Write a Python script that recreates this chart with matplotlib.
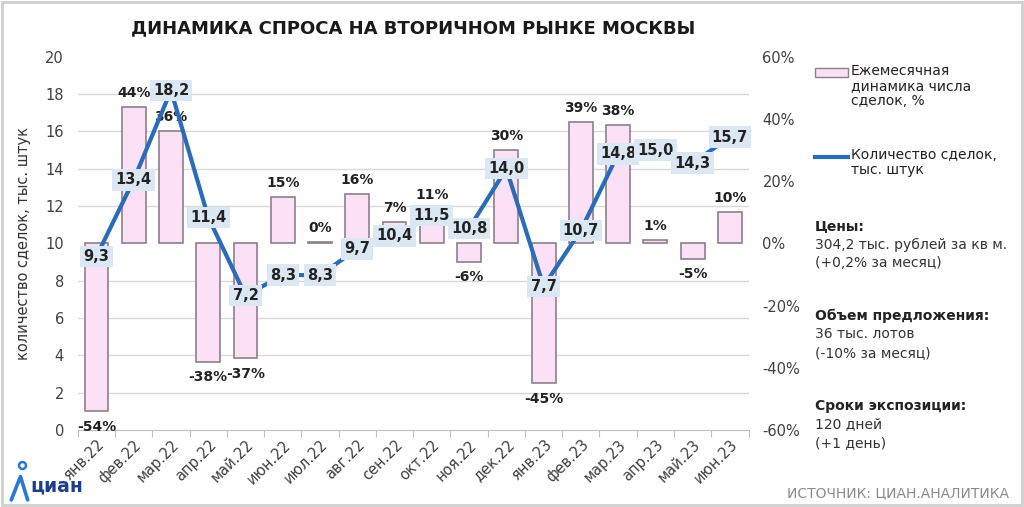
import matplotlib
matplotlib.use("Agg")
import matplotlib.pyplot as plt
from matplotlib.ticker import MultipleLocator, FuncFormatter
from matplotlib.patches import Rectangle
from matplotlib.lines import Line2D

plt.rcParams['font.family'] = ['DejaVu Sans']

months = ['янв.22', 'фев.22', 'мар.22', 'апр.22', 'май.22', 'июн.22', 'июл.22',
          'авг.22', 'сен.22', 'окт.22', 'ноя.22', 'дек.22', 'янв.23', 'фев.23',
          'мар.23', 'апр.23', 'май.23', 'июн.23']
deals = [9.3, 13.4, 18.2, 11.4, 7.2, 8.3, 8.3, 9.7, 10.4, 11.5, 10.8, 14.0,
         7.7, 10.7, 14.8, 15.0, 14.3, 15.7]
change_pct = [-54, 44, 36, -38, -37, 15, 0.4, 16, 7, 11, -6, 30, -45, 39, 38, 1, -5, 10]

BAR_FACE = '#fbe0f6'
BAR_EDGE = '#8c7f8c'
LINE_COL = '#2b6cb8'
LABEL_BG = '#dbe8f4'
TEXT_COL = '#222222'
GRID_COL = '#d9d9d9'
W, H = 1024, 507

fig = plt.figure(figsize=(10.24, 5.07), dpi=100)
fig.patch.set_facecolor('white')
fig.add_artist(Rectangle((0.002, 0.003), 0.996, 0.994, transform=fig.transFigure,
                         fill=False, edgecolor='#cfcfcf', lw=2))

ax2 = fig.add_axes([0.076, 0.152, 0.655, 0.736])   # bars, right axis (%)
ax = fig.add_axes([0.076, 0.152, 0.655, 0.736], sharex=ax2)  # line, left axis
ax.set_zorder(ax2.get_zorder() + 1)
ax.patch.set_visible(False)

x = list(range(len(months)))

# bars (right axis)
ax2.bar(x, change_pct, width=0.64, color=BAR_FACE, edgecolor=BAR_EDGE, linewidth=1.2, zorder=3)
for i, v in enumerate(change_pct):
    lab = f"{round(v):d}%"
    if v >= 0:
        ax2.annotate(lab, (i, v), xytext=(0, 5), textcoords='offset points',
                     ha='center', va='bottom', fontsize=10, fontweight='bold', color=TEXT_COL, zorder=5)
    else:
        ax2.annotate(lab, (i, v), xytext=(0, -6), textcoords='offset points',
                     ha='center', va='top', fontsize=10, fontweight='bold', color=TEXT_COL, zorder=5)
ax2.set_ylim(-60, 60)
ax2.set_xlim(-0.5, len(months) - 0.5)
ax2.yaxis.tick_right()
ax2.yaxis.set_major_locator(MultipleLocator(20))
ax2.yaxis.set_minor_locator(MultipleLocator(12))
ax2.yaxis.set_major_formatter(FuncFormatter(lambda v, p: f"{int(round(v))}%"))
ax2.grid(axis='y', which='minor', color=GRID_COL, lw=1, zorder=0)
ax2.set_axisbelow(True)
ax2.tick_params(axis='y', which='both', length=0, labelsize=10.5, labelcolor='#404040', pad=10)
for s in ['top', 'left', 'right']:
    ax2.spines[s].set_visible(False)
ax2.spines['bottom'].set_color('#bfbfbf')
ax2.spines['bottom'].set_zorder(1)

# x ticks between categories
ax2.set_xticks([i + 0.5 for i in range(-1, len(months))], minor=False)
ax2.set_xticklabels([])
ax2.tick_params(axis='x', which='major', length=5, color='#bfbfbf', direction='out')
for i, m in enumerate(months):
    ax2.annotate(m, (i, 0), xycoords=('data', 'axes fraction'), xytext=(4, -9),
                 textcoords='offset points', rotation=45, rotation_mode='anchor',
                 ha='right', va='center', fontsize=10.5, color='#404040')

# line (left axis)
ax.plot(x, deals, color=LINE_COL, lw=3, zorder=4, solid_capstyle='round')
for i, v in enumerate(deals):
    ax.annotate(f"{v:.1f}".replace('.', ','), (i, v), ha='center', va='center',
                fontsize=10.5, fontweight='bold', color=TEXT_COL, zorder=6,
                bbox=dict(boxstyle='square,pad=0.22', facecolor=LABEL_BG, edgecolor='none'))
ax.set_ylim(0, 20)
ax.yaxis.set_major_locator(MultipleLocator(2))
ax.tick_params(axis='y', length=0, labelsize=10.5, labelcolor='#404040', pad=10)
ax.tick_params(axis='x', which='both', length=0, labelbottom=False)
for s in ax.spines.values():
    s.set_visible(False)
ax.set_ylabel('количество сделок, тыс. штук', fontsize=10.5, color='#333333', labelpad=10)

# title
fig.text(0.403, 0.945, 'ДИНАМИКА СПРОСА НА ВТОРИЧНОМ РЫНКЕ МОСКВЫ', ha='center', va='center',
         fontsize=13, fontweight='bold', color='#1a1a1a')

# manual legend
def fx(px):
    return px / W

def fy(py):
    return 1 - py / H

fig.add_artist(Rectangle((fx(815), fy(77)), fx(848) - fx(815), fy(68) - fy(77),
                         transform=fig.transFigure, facecolor=BAR_FACE, edgecolor=BAR_EDGE, lw=1))
fig.text(fx(851), fy(64), 'Ежемесячная\nдинамика числа\nсделок, %', ha='left', va='top',
         fontsize=10, color=TEXT_COL, linespacing=1.1)
fig.add_artist(Line2D([fx(815), fx(848)], [fy(157), fy(157)], transform=fig.transFigure,
                      color=LINE_COL, lw=3))
fig.text(fx(851), fy(148), 'Количество сделок,\nтыс. штук', ha='left', va='top',
         fontsize=10, color=TEXT_COL, linespacing=1.1)

# info blocks
blocks = [
    (226, 'Цены:', ['304,2 тыс. рублей за кв м.', '(+0,2% за месяц)']),
    (316, 'Объем предложения:', ['36 тыс. лотов', '(-10% за месяц)']),
    (406, 'Сроки экспозиции:', ['120 дней', '(+1 день)']),
]
for ytop, head, lines in blocks:
    fig.text(fx(815), fy(ytop), head, ha='left', va='center', fontsize=10, fontweight='bold', color=TEXT_COL)
    for k, ln in enumerate(lines):
        fig.text(fx(815), fy(ytop + 18.5 * (k + 1)), ln, ha='left', va='center', fontsize=10, color='#333333')

# source
fig.text(0.985, 0.027, 'ИСТОЧНИК: ЦИАН.АНАЛИТИКА', ha='right', va='center', fontsize=10, color='#8a8a8a')

# logo
fig.text(0.030, 0.022, 'циан', ha='left', va='bottom', fontsize=13.5, fontweight='bold', color='#1b3f8b')
fig.add_artist(Line2D([0.011, 0.020, 0.027], [0.014, 0.060, 0.014], transform=fig.transFigure,
                      color='#2a78d6', lw=2.6, solid_capstyle='round'))
fig.add_artist(Line2D([0.021], [0.083], transform=fig.transFigure, marker='o', markersize=5,
                      markerfacecolor='white', markeredgecolor='#2a78d6', markeredgewidth=1.8))

fig.savefig('out.png', dpi=100)
